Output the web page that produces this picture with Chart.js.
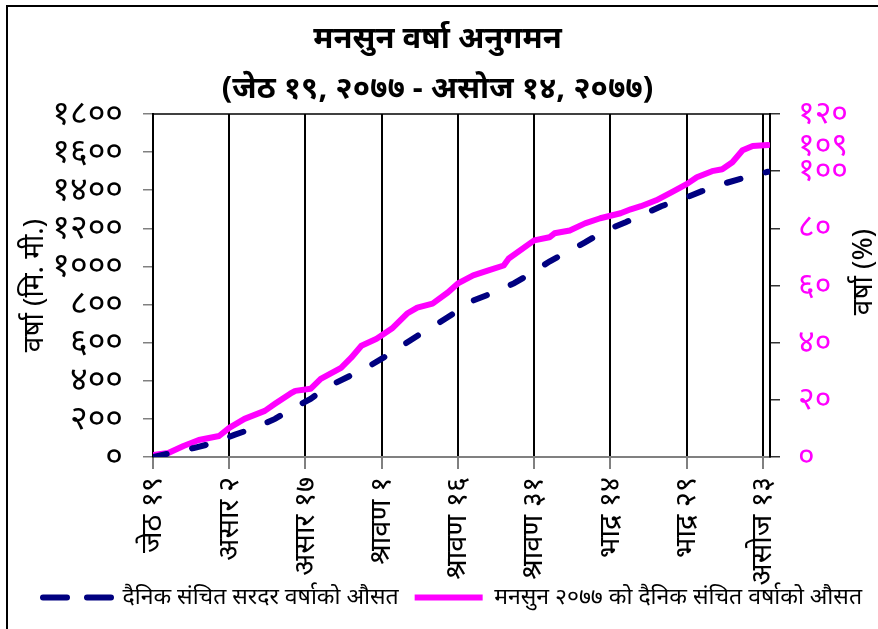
<!DOCTYPE html>
<html>
<head>
<meta charset="utf-8">
<script src="https://cdn.jsdelivr.net/npm/chart.js@4"></script>
<style>
html,body{margin:0;padding:0;background:#fff;}
#wrap{position:relative;width:878px;height:629px;}
</style>
</head>
<body>
<div id="wrap"><canvas id="c" width="878" height="629"></canvas></div>
<script>
// ---- data ----
const titleLines = ['मनसुन वर्षा अनुगमन', '(जेठ १९, २०७७ - असोज १४, २०७७)'];
const seriesNames = ['दैनिक संचित सरदर वर्षाको औसत', 'मनसुन २०७७ को दैनिक संचित वर्षाको औसत'];
const xTickDays = [0, 15, 30, 45, 60, 75, 90, 105, 120];
const xTickLabels = ['जेठ १९', 'असार २', 'असार १७', 'श्रावण १', 'श्रावण १६', 'श्रावण ३१', 'भाद्र १४', 'भाद्र २९', 'असोज १३'];
const leftTicks = [0, 200, 400, 600, 800, 1000, 1200, 1400, 1600, 1800];
const leftTickLabels = ['०', '२००', '४००', '६००', '८००', '१०००', '१२००', '१४००', '१६००', '१८००'];
const rightTicks = [0, 20, 40, 60, 80, 100, 109, 120];
const rightTickLabels = ['०', '२०', '४०', '६०', '८०', '१००', '१०९', '१२०'];
const leftTitle = 'वर्षा (मि. मी.)';
const rightTitle = 'वर्षा (%)';

// normal (average) cumulative rainfall, mm
const normalDays = [0, 8, 12, 16, 20, 24, 27, 31, 34, 38, 42, 46, 49, 53, 56, 60, 63, 67, 71, 75, 78, 82, 85, 89, 93, 97, 100, 105, 108, 112, 116, 121];
const normalMm   = [0, 47, 74, 116, 153, 200, 247, 305, 363, 416, 468, 532, 584, 653, 700, 768, 821, 863, 911, 974, 1026, 1084, 1126, 1189, 1232, 1279, 1316, 1363, 1395, 1432, 1463, 1497];
// monsoon 2077 cumulative rainfall, mm
const monsoonDays = [0, 3, 6, 9, 13, 15, 18, 22, 24, 27, 28, 31, 33, 37, 39, 41, 44, 47, 50, 52, 55, 58, 60, 63, 66, 69, 70, 75, 78, 79, 82, 85, 88, 92, 94, 96, 99, 102, 105, 107, 110, 112, 114, 116, 118, 121];
const monsoonMm   = [10, 21, 58, 89, 110, 153, 200, 242, 279, 332, 347, 358, 410, 468, 521, 584, 621, 674, 753, 784, 805, 863, 911, 953, 979, 1005, 1042, 1137, 1153, 1174, 1189, 1226, 1253, 1279, 1300, 1316, 1347, 1389, 1432, 1468, 1500, 1510, 1547, 1610, 1632, 1637];

const FONT = '"Noto Sans", "Noto Sans Devanagari", "Lohit Devanagari", sans-serif';

const framePlugin = {
  id: 'frame',
  afterLayout(chart) {
    // let the rotated date labels run down beside the legend, as in the original
    chart.scales.x.bottom = chart.height;
    // nudge the legend row to where the original places it
    chart.legend.left += 15;
    chart.legend.right += 15;
  },
  beforeDraw(chart) {
    const ctx = chart.ctx;
    ctx.save();
    ctx.fillStyle = '#fff';
    ctx.fillRect(0, 0, chart.width, chart.height);
    ctx.strokeStyle = '#000';
    ctx.lineWidth = 2;
    ctx.strokeRect(7, 6, 1000, 1000);
    ctx.restore();
  },
  afterDraw(chart) {
    const ctx = chart.ctx, a = chart.chartArea;
    ctx.save();
    ctx.strokeStyle = '#000';
    ctx.lineWidth = 1.5;
    ctx.beginPath();
    ctx.moveTo(a.left, a.top);
    ctx.lineTo(a.right, a.top);
    ctx.stroke();
    // right axis title, reading bottom-to-top
    ctx.fillStyle = '#000';
    ctx.font = '28px ' + FONT;
    ctx.textAlign = 'center';
    ctx.textBaseline = 'middle';
    ctx.translate(864, 272);
    ctx.rotate(-Math.PI / 2);
    ctx.fillText(rightTitle, 0, 0);
    ctx.restore();
  }
};

new Chart(document.getElementById('c'), {
  type: 'line',
  data: {
    datasets: [
      {
        label: seriesNames[0],
        data: normalDays.map((d, i) => ({x: d, y: normalMm[i]})),
        borderColor: '#000080',
        borderWidth: 6,
        borderDash: [14, 26],
        borderCapStyle: 'round',
        pointRadius: 0,
        tension: 0,
        yAxisID: 'y'
      },
      {
        label: seriesNames[1],
        data: monsoonDays.map((d, i) => ({x: d, y: monsoonMm[i]})),
        borderColor: '#FF00FF',
        borderWidth: 6,
        borderCapStyle: 'round',
        borderJoinStyle: 'round',
        pointRadius: 0,
        tension: 0,
        yAxisID: 'y'
      }
    ]
  },
  options: {
    responsive: false,
    animation: false,
    layout: {padding: {left: 7, right: 10, top: 0, bottom: 10}},
    plugins: {
      title: {
        display: true,
        text: titleLines,
        color: '#000',
        font: {family: FONT, size: 31, weight: 'bold', lineHeight: 1.613},
        padding: {top: 14, bottom: 0}
      },
      legend: {
        position: 'bottom',
        align: 'center',
        labels: {
          color: '#000',
          font: {family: FONT, size: 23},
          usePointStyle: true,
          pointStyleWidth: 68,
          boxHeight: 23,
          padding: 16,
          generateLabels(chart) {
            return chart.data.datasets.map((ds, i) => ({
              text: ds.label,
              fillStyle: ds.borderColor,
              strokeStyle: ds.borderColor,
              lineWidth: 6,
              lineDash: i === 0 ? [24, 20] : [],
              lineCap: i === 0 ? 'round' : 'butt',
              pointStyle: 'line',
              hidden: false,
              datasetIndex: i,
              fontColor: '#000'
            }));
          }
        }
      },
      tooltip: {enabled: false}
    },
    scales: {
      x: {
        type: 'linear',
        min: 0,
        max: 121.4,
        afterBuildTicks(s) { s.ticks = xTickDays.map(v => ({value: v})); },
        afterFit(s) { s.height = 113; },
        ticks: {
          autoSkip: false,
          minRotation: 90,
          maxRotation: 90,
          padding: 8,
          color: '#000',
          font: {family: FONT, size: 29},
          callback(v) { const i = xTickDays.indexOf(v); return i >= 0 ? xTickLabels[i] : ''; }
        },
        grid: {color: '#000', lineWidth: 2, tickColor: '#808080', tickLength: 12},
        border: {color: '#808080', width: 2}
      },
      y: {
        position: 'left',
        min: 0,
        max: 1800,
        afterBuildTicks(s) { s.ticks = leftTicks.map(v => ({value: v})); },
        afterFit(s) { s.width = 146; },
        ticks: {
          autoSkip: false,
          padding: 20,
          color: '#000',
          font: {family: FONT, size: 34, lineHeight: 1},
          callback(v) { const i = leftTicks.indexOf(v); return i >= 0 ? leftTickLabels[i] : ''; }
        },
        grid: {drawOnChartArea: false, tickColor: '#808080', tickLength: 10, lineWidth: 1.5},
        border: {color: '#000', width: 2},
        title: {display: true, text: leftTitle, color: '#000', font: {family: FONT, size: 28, lineHeight: 1}, padding: {top: 14, bottom: 0}}
      },
      y2: {
        position: 'right',
        min: 0,
        max: 120,
        afterBuildTicks(s) { s.ticks = rightTicks.map(v => ({value: v})); },
        afterFit(s) { s.width = 98; },
        ticks: {
          autoSkip: false,
          padding: 18,
          color: '#FF00FF',
          font: {family: FONT, size: 32, lineHeight: 1},
          callback(v) { const i = rightTicks.indexOf(v); return i >= 0 ? rightTickLabels[i] : ''; }
        },
        grid: {
          drawOnChartArea: false,
          tickLength: 10,
          lineWidth: 1.5,
          tickColor: (c) => (c.tick && c.tick.value === 109) ? 'rgba(0,0,0,0)' : '#333'
        },
        border: {color: '#000', width: 2}
      }
    }
  },
  plugins: [framePlugin]
});
</script>
</body>
</html>
